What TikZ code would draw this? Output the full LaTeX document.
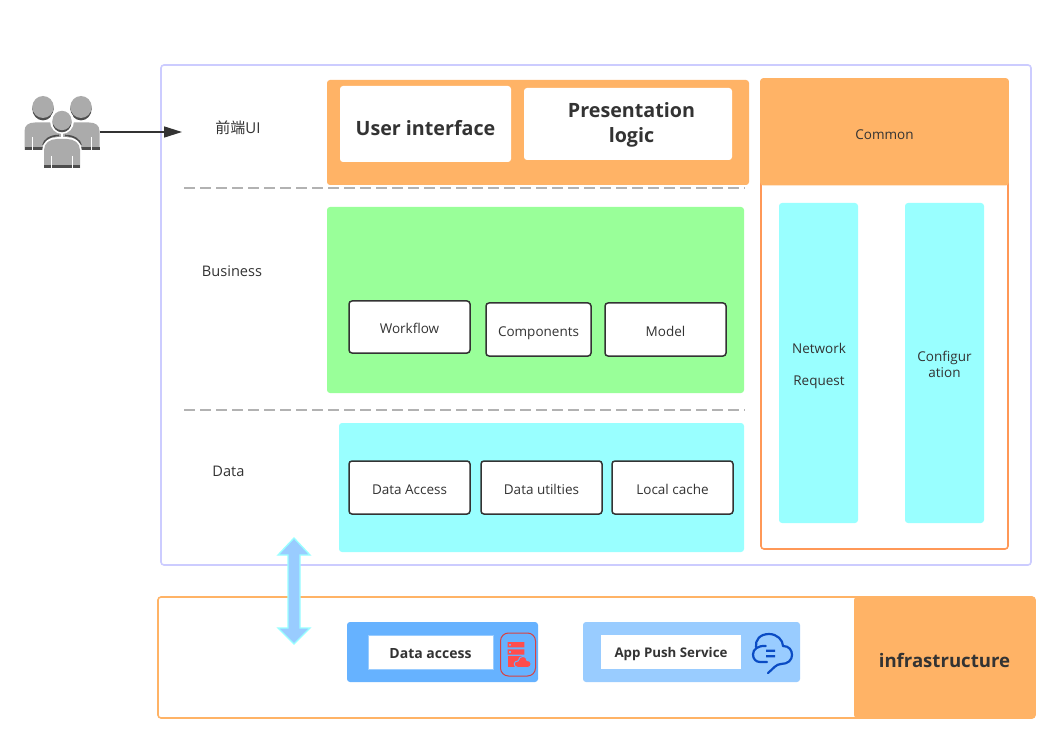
\documentclass[tikz,border=0pt]{standalone}
\usepackage{fontspec}
\setmainfont{Open Sans}
\newfontfamily\cjkf{Noto Sans CJK SC}
\usetikzlibrary{arrows.meta}
\definecolor{ink}{HTML}{333333}
\definecolor{orangeF}{HTML}{FFB366}
\definecolor{lav}{HTML}{CCCCFF}
\definecolor{cyanF}{HTML}{99FFFF}
\definecolor{greenF}{HTML}{99FF99}
\definecolor{blueA}{HTML}{66B2FF}
\definecolor{blueB}{HTML}{99CCFF}
\definecolor{redI}{HTML}{FF4D4D}
\definecolor{blueI}{HTML}{0A4BC4}
\definecolor{grayA}{HTML}{ABABAB}
\definecolor{grayB}{HTML}{4D4D4D}
\tikzset{
  panel/.style={rounded corners=3pt,draw=none,inner sep=0pt},
  txt/.style={text=ink,font=\fontsize{13.5}{16}\selectfont,align=center,inner sep=0pt},
  inner/.style={draw=ink,line width=1.5pt,fill=white,rounded corners=3pt},
  big/.style={text=ink,font=\fontsize{19.7}{25}\bfseries\selectfont,align=center,inner sep=0pt},
  mid/.style={text=ink,font=\fontsize{14}{17}\bfseries\selectfont,align=center,inner sep=0pt},
  sep/.style={draw=black!30,line width=1.4pt,dash pattern=on 11pt off 5pt},
}
% name, x0, y0, x1, y1, style, text
\newcommand{\bx}[7]{%
  \pgfmathsetmacro{\bw}{#4-#2}\pgfmathsetmacro{\bh}{#5-#3}%
  \pgfmathsetmacro{\cxx}{(#2+#4)/2}\pgfmathsetmacro{\cyy}{(#3+#5)/2}%
  \node[#6,minimum width=\bw pt,minimum height=\bh pt,inner sep=0pt,outer sep=0pt] (#1) at (\cxx,\cyy) {#7};}
% moves the text down by #1 pt inside its centred node, by padding its top
\newcommand{\dn}[2]{\raisebox{0pt}[\dimexpr\height+#1pt+#1pt\relax][\depth]{#2}}
\newcommand{\rearperson}[2]{%
  \begin{scope}[shift={(#1,#2)}]
    \fill[grayB] (0,1.8) ellipse (10.7 and 11.6);
    \fill[grayA] (0,0) ellipse (10.7 and 11);
    \fill[grayA] (-18.5,43) -- (-18.5,24) .. controls (-18.5,18) and (-14,15.5) .. (-8,15.5) -- (8,15.5) .. controls (14,15.5) and (18.5,18) .. (18.5,24) -- (18.5,43) -- cycle;
    \fill[grayB] (-18.5,40) rectangle (18.5,43);
  \end{scope}}
\begin{document}
\begin{tikzpicture}[x=1pt,y=-1pt]
\useasboundingbox[fill=white] (0,0) rectangle (1060,743);
% containers
\bx{main}{161}{65}{1031}{565}{draw=lav,line width=1.6pt,rounded corners=3pt,fill=white}{}
\bx{infra}{158}{597}{1035}{718}{draw=orangeF,line width=1.6pt,rounded corners=3pt}{}
% separators
\coordinate (s1a) at (184,188); \coordinate (s1b) at (745,188);
\coordinate (s2a) at (184,410); \coordinate (s2b) at (745,410);
\draw[sep] (s1a) -- (s1b);
\draw[sep] (s2a) -- (s2b);
% labels
\node[txt,font=\fontsize{15}{17}\selectfont] (lui) at (238,128) {{\cjkf 前端}UI};
\node[txt,font=\fontsize{14.6}{17}\selectfont] (lbus) at (232,271) {Business};
\node[txt,font=\fontsize{14.6}{17}\selectfont] (ldata) at (228.5,471) {Data};
% UI layer
\bx{ui}{327}{80}{749}{185}{panel,fill=orangeF}{}
\bx{uif}{340}{86}{511}{162}{panel,fill=white,big}{\dn{4}{User interface}}
\bx{pres}{524}{88}{732}{160}{panel,fill=white,big}{\hspace*{7pt}\dn{1.5}{\begin{tabular}{@{}c@{}}Presentation\\logic\end{tabular}}}
% Common
\bx{commonout}{761}{79}{1008}{549}{draw=orangeF!85!red,line width=1.6pt,rounded corners=3pt,fill=white}{}
\bx{common}{760.2}{78.2}{1008.8}{185.5}{panel,fill=orangeF,txt}{\dn{3}{Common}}
\bx{net}{779}{203}{858}{523}{panel,fill=cyanF}{}
\node[txt] (netA) at (819,348) {Network};
\node[txt] (netB) at (819,380) {\dn{2}{Request}};
\bx{conf}{905}{203}{984}{523}{panel,fill=cyanF,txt}{\dn{3}{\begin{tabular}{@{}c@{}}Configur\\ation\end{tabular}}}
% Business
\bx{biz}{327}{207}{744}{393}{panel,fill=greenF}{}
\bx{wf}{349}{301}{470}{353}{inner,txt}{\dn{1}{Workflow}}
\bx{comp}{486}{303}{591}{356}{inner,txt}{\dn{4}{Components}}
\bx{model}{605}{303}{726}{356}{inner,txt}{\dn{2}{Model}}
% Data
\bx{dat}{339}{423}{744}{552}{panel,fill=cyanF}{}
\bx{da}{349}{461}{470}{514}{inner,txt}{\dn{2}{Data Access}}
\bx{du}{481}{461}{602}{514}{inner,txt}{\dn{2}{Data utilties}}
\bx{lc}{612}{461}{733}{514}{inner,txt}{\dn{2}{Local cache}}
% Infrastructure
\bx{infl}{854}{597}{1035}{718}{panel,fill=orangeF,big,font=\fontsize{18.6}{24}\bfseries\selectfont}{\dn{3}{infrastructure}}
\bx{dap}{347}{622}{538}{682}{panel,fill=blueA}{}
\bx{dal}{368}{635}{493}{669}{fill=white,draw=blueB,line width=.6pt,mid}{\dn{2}{Data access}}
\bx{app}{583}{622}{800}{682}{panel,fill=blueB}{}
\bx{apl}{601}{635}{741}{669}{fill=white,mid,font=\fontsize{13.3}{16}\bfseries\selectfont}{\dn{2}{App Push Service}}
% red icon
\bx{redbox}{500.5}{633}{535.5}{676}{draw=redI!85!black,line width=1pt,rounded corners=8pt}{}
\fill[redI] (507.7,642) rectangle (524.3,647.3) (507.7,649.3) rectangle (524.3,654.7);
\fill[redI] (507.7,656.4) rectangle (524.3,667);
\fill[blueA] (509,644) rectangle (510.8,645.6) (509,651.2) rectangle (510.8,652.8);
\path[fill=redI,draw=blueA,line width=1pt] (518,667.5) .. controls (513,667.5) and (513,660.5) .. (518,661) .. controls (519,655) and (527,655) .. (527,660.5) .. controls (532,659.5) and (532.5,667.5) .. (528,667.5) -- cycle;
% blue cloud icon
\draw[blueI,line width=2.2pt,line cap=round,line join=round]
  (765.7,646) .. controls (758,645.5) and (753,649) .. (753,654.5)
  .. controls (753,659) and (756,662) .. (760,662) -- (767,662);
\draw[blueI,line width=2.2pt,line cap=round,line join=round]
  (756,647) .. controls (755,640) and (760,634) .. (769,634)
  .. controls (777,634) and (783,640) .. (783,646)
  .. controls (789,646) and (792,650) .. (792,655)
  .. controls (792,660) and (788,664) .. (781,664)
  .. controls (776,664) and (773,669) .. (768,673);
\fill[blueI] (766,649.5) rectangle (775,651.8) (766,655) rectangle (775,657.3);
% people icon
\rearperson{43}{107}
\rearperson{81}{107}
\draw[white,line width=1pt] (32.3,137) -- (32.3,150) (91.7,137) -- (91.7,150);
\draw[grayB,line width=1.6pt] (43,145) .. controls (44,140) and (50,135.5) .. (59,135.5);
\draw[grayB,line width=1.6pt] (81,145) .. controls (80,140) and (74,135.5) .. (65,135.5);
\path[fill=white] (62,121) ellipse (12 and 13);
\path[fill=white,draw=white,line width=3.5pt,line join=round] (44,168) -- (44,150) .. controls (44,143) and (50,139) .. (57,139) -- (67,139) .. controls (74,139) and (80,143) .. (80,150) -- (80,168) -- cycle;
\fill[white] (60.8,128) rectangle (63.2,139);
\fill[grayB] (62,122.3) ellipse (9.5 and 10);
\fill[grayA] (62,120.5) ellipse (9.5 and 9.7);
\fill[grayA] (44,168) -- (44,150) .. controls (44,143) and (50,139) .. (57,139) -- (67,139) .. controls (74,139) and (80,143) .. (80,150) -- (80,168) -- cycle;
\fill[grayB] (44,165) rectangle (80,168);
\draw[white,line width=1pt] (51.5,156) -- (51.5,168) (72.5,156) -- (72.5,168);
% arrow from people
\coordinate (uA) at (100,132);
\coordinate (uB) at (182,132);
\draw[ink,line width=1.5pt,-{Triangle[length=18pt,width=11pt,ink]}] (uA) -- (uB);
% double arrow
\draw[cyanF,line width=1.3pt,fill=blueB,line join=miter]
  (294,538) -- (310,555) -- (300,555) -- (300,628) -- (310,628) -- (294,644)
  -- (278,628) -- (288,628) -- (288,555) -- (278,555) -- cycle;
\end{tikzpicture}
\end{document}
